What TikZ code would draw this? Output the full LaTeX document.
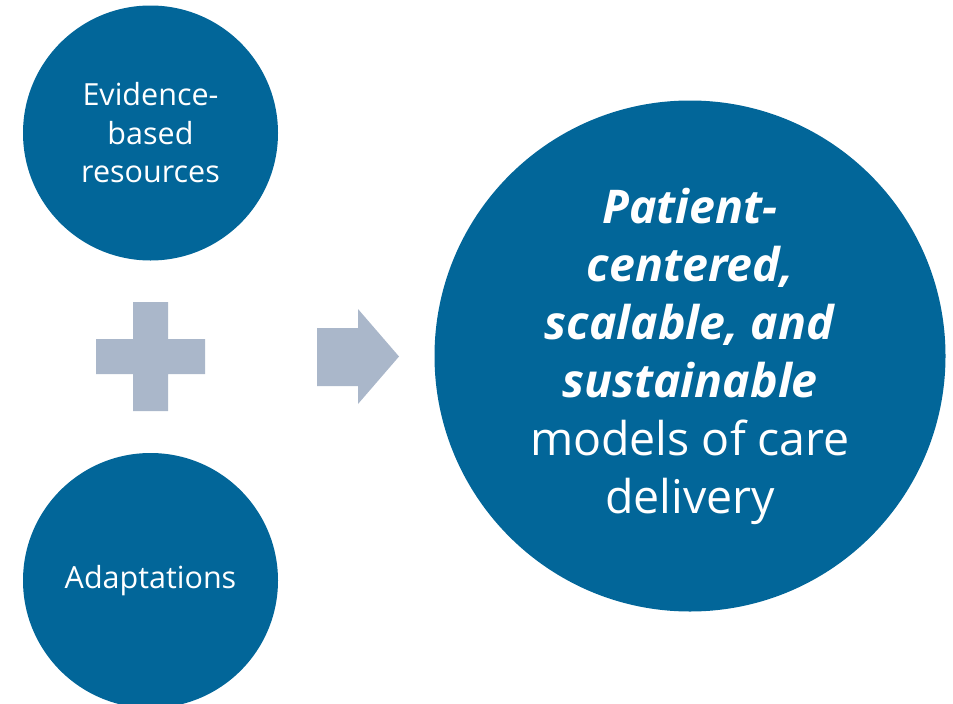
\documentclass[tikz,border=0pt]{standalone}
\usepackage{fontspec}
\setmainfont{Open Sans}
\definecolor{circblue}{RGB}{2,102,153}
\definecolor{shapegray}{RGB}{170,183,202}
\begin{document}
\begin{tikzpicture}[x=1pt,y=-1pt,
  bubble/.style={circle,fill=circblue,text=white,inner sep=0pt,align=center},
  smalltxt/.style={font=\fontsize{30.5}{38.5}\selectfont},
  bigtxt/.style={font=\fontsize{46.5}{58}\selectfont},
  mark shape/.style={fill=shapegray,draw=none}]
\useasboundingbox (0,0) rectangle (953,704);
\clip (0,0) rectangle (953,704);
\node[bubble,minimum size=255pt,smalltxt] (evid) at (150.5,133) {Evidence-\\based\\resources};
\node[bubble,minimum size=255pt,smalltxt] (adapt) at (150.5,580.5) {Adaptations};
\node[bubble,minimum size=511pt,bigtxt] (model) at (690,356) {\textbf{\textit{Patient-}}\\\textbf{\textit{centered,}}\\\textbf{\textit{scalable, and}}\\\textbf{\textit{sustainable}}\\models of care\\delivery};
% plus sign
\fill[mark shape] (133,302) -- (168,302) -- (168,339) -- (205,339) -- (205,374) -- (168,374) -- (168,411) -- (133,411) -- (133,374) -- (96,374) -- (96,339) -- (133,339) -- cycle;
% block arrow
\fill[mark shape] (317,328) -- (358,328) -- (358,309) -- (399,356.5) -- (358,404) -- (358,386) -- (317,386) -- cycle;
\end{tikzpicture}
\end{document}
